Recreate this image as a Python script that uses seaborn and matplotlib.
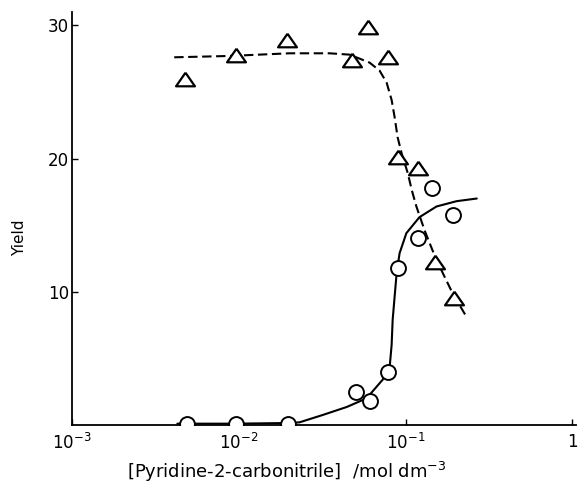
import numpy as np
import pandas as pd
import seaborn as sns
import matplotlib
matplotlib.use("Agg")
import matplotlib.pyplot as plt
from matplotlib.ticker import FixedLocator, FixedFormatter, NullLocator

# measured points, circles (solid curve) and triangles (dashed curve)
circle_x = [0.00491, 0.00966, 0.0198, 0.0501, 0.0608, 0.0780, 0.0895, 0.118, 0.143, 0.191]
circle_y = [0.1, 0.1, 0.1, 2.5, 1.8, 4.0, 11.8, 14.0, 17.8, 15.8]

tri_x = [0.00478, 0.00966, 0.0195, 0.0474, 0.0591, 0.0780, 0.0895, 0.118, 0.149, 0.194]
tri_y = [26.0, 27.8, 28.9, 27.4, 29.9, 27.6, 20.1, 19.3, 12.2, 9.5]

# hand drawn curves
solid_x = [0.00428, 0.00966, 0.0198, 0.0231, 0.0318, 0.0443, 0.0583, 0.0728, 0.0802,
           0.0824, 0.0836, 0.0883, 0.0920, 0.101, 0.121, 0.153, 0.202, 0.267]
solid_y = [0.1, 0.1, 0.15, 0.2, 0.75, 1.35, 2.0, 3.4, 4.35,
           6.0, 7.9, 11.4, 12.9, 14.4, 15.6, 16.4, 16.8, 17.0]

dash_x = [0.00410, 0.00877, 0.0201, 0.0350, 0.0461, 0.0608, 0.0698, 0.0769, 0.0824, 0.0859,
          0.0895, 0.0946, 0.103, 0.109, 0.116, 0.130, 0.145, 0.167, 0.191, 0.232]
dash_y = [27.6, 27.7, 27.9, 27.9, 27.8, 27.2, 26.6, 25.7, 24.4, 23.1,
          21.6, 20.4, 18.9, 17.6, 16.4, 14.6, 13.1, 11.4, 9.9, 8.1]

xticks = [1e-3, 1e-2, 1e-1, 1]
xtick_labels = ['$10^{-3}$', '$10^{-2}$', '$10^{-1}$', '1']
yticks = [10, 20, 30]
ytick_labels = ['10', '20', '30']

sns.set_theme(style="white")
plt.rcParams['font.family'] = ['DejaVu Sans']
plt.rcParams['mathtext.default'] = 'regular'

fig = plt.figure(figsize=(5.78, 4.96), dpi=100)
ax = fig.add_axes([72/578, 71/496, 504/578, 413/496])

solid = pd.DataFrame({'x': solid_x, 'y': solid_y})
dash = pd.DataFrame({'x': dash_x, 'y': dash_y})
circles = pd.DataFrame({'x': circle_x, 'y': circle_y})
tris = pd.DataFrame({'x': tri_x, 'y': tri_y})

# flat triangle like the drawn one
tri_marker = [(0, 0.72), (-1, -0.72), (1, -0.72), (0, 0.72)]

sns.lineplot(data=solid, x='x', y='y', sort=False, color='black', linewidth=1.5, ax=ax)
sns.lineplot(data=dash, x='x', y='y', sort=False, color='black', linewidth=1.5,
             linestyle=(0, (4.5, 2.2)), ax=ax)
sns.scatterplot(data=circles, x='x', y='y', marker='o', s=115, facecolor='white',
                edgecolor='black', linewidth=1.4, zorder=3, ax=ax)
sns.scatterplot(data=tris, x='x', y='y', marker=tri_marker, s=185, facecolor='white',
                edgecolor='black', linewidth=1.6, zorder=3, ax=ax)

ax.set_xscale('log')
ax.set_xlim(1e-3, 1.05)
ax.set_ylim(0, 31)
ax.xaxis.set_major_locator(FixedLocator(xticks))
ax.xaxis.set_major_formatter(FixedFormatter(xtick_labels))
ax.xaxis.set_minor_locator(NullLocator())
ax.yaxis.set_major_locator(FixedLocator(yticks))
ax.yaxis.set_major_formatter(FixedFormatter(ytick_labels))

sns.despine(ax=ax)
for side in ['left', 'bottom']:
    ax.spines[side].set_color('black')
    ax.spines[side].set_linewidth(1.3)
ax.tick_params(axis='both', which='major', direction='in', length=4, width=1,
               colors='black', labelsize=12, bottom=True, left=True)
ax.tick_params(axis='x', pad=6)
ax.tick_params(axis='y', pad=2)

ax.set_ylabel('Yield', fontsize=11, color='black')
ax.yaxis.set_label_coords(-0.089, 0.453)
ax.set_xlabel('[Pyridine-2-carbonitrile]  /mol dm$^{-3}$', fontsize=13, color='black')
ax.xaxis.set_label_coords(0.427, -0.085)

fig.savefig('out.png', dpi=100, facecolor='white')
